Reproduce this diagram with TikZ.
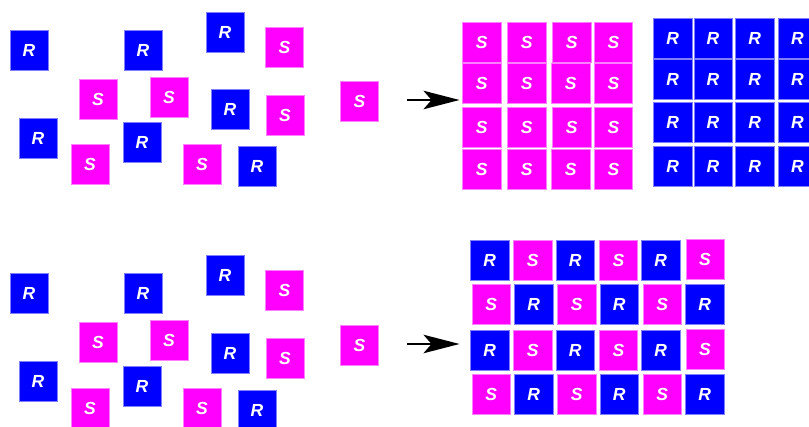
\documentclass[tikz,border=0pt]{standalone}
\usepackage{fontspec}
\setmainfont{Liberation Sans}
\usetikzlibrary{arrows.meta}
\definecolor{rblue}{RGB}{0,0,255}
\definecolor{smag}{RGB}{255,0,255}
\tikzset{
  tile/.style={minimum width=38.4pt, minimum height=40pt, inner sep=0pt,
    line width=0.6pt, text=white,
    font=\fontsize{17.5}{17.5}\selectfont\bfseries\itshape},
  rtile/.style={tile, fill=rblue, draw=rblue!50!white},
  stile/.style={tile, fill=smag, draw=smag!50!white},
  flow/.style={line width=1.8pt, -{Stealth[length=36pt, width=18.5pt, inset=8pt]}}
}
\begin{document}
\begin{tikzpicture}[x=1pt, y=-1pt]
\useasboundingbox (0,0) rectangle (809,427);

% loose molecules, upper and lower panels
\foreach \x/\y/\s/\l [count=\i] in {
  29/50/rtile/R, 143/50/rtile/R, 225/32/rtile/R, 284.5/47/stile/S,
  98/99/stile/S, 169/97/stile/S, 230/109.5/rtile/R, 285/115/stile/S,
  359.5/101.5/stile/S, 38/138/rtile/R, 90/164.7/stile/S, 142/142.5/rtile/R,
  202/164.7/stile/S, 257/166.5/rtile/R}
{
  \node[\s] (ua\i) at (\x,\y) {\l};
  \node[\s] (la\i) at (\x,\y+243.5) {\l};
}

% upper result: separate S and R blocks
\foreach \x/\y [count=\i] in {
  481.7/42, 526.7/42, 571.8/42, 613.5/42,
  481.7/83.5, 526.7/83.5, 570.8/83.5, 613.5/83.5,
  481.7/127.7, 526.7/127.7, 571.8/127.7, 613.5/127.7,
  481.7/169.2, 526.7/169.2, 570.8/169.2, 613.5/169.2}
  \node[stile] (us\i) at (\x,\y) {S};

\foreach \x/\y [count=\i] in {
  672.7/38.3, 713/38.3, 754.7/38.3, 797.5/38.3,
  672.7/79.7, 713/79.7, 754.7/79.7, 797.5/79.7,
  672.7/122.7, 713/122.7, 754.7/122.7, 797.5/122.7,
  672.7/166.3, 713/166.3, 754.7/166.3, 797.5/166.3}
  \node[rtile] (ur\i) at (\x,\y) {R};

% lower result: alternating R/S lattice
\foreach \x/\y/\s/\l [count=\i] in {
  489.8/260.3/rtile/R, 532.8/260.3/stile/S, 575.3/260.3/rtile/R,
  618.5/260.3/stile/S, 660.8/260.3/rtile/R, 705/259.3/stile/S,
  491.3/304.3/stile/S, 533.8/304.3/rtile/R, 576.7/304.3/stile/S,
  619.3/304.3/rtile/R, 662.3/304.3/stile/S, 704.8/304.3/rtile/R,
  489.8/350.5/rtile/R, 532.8/350.5/stile/S, 575.3/350.5/rtile/R,
  618.5/350.5/stile/S, 660.8/350.5/rtile/R, 705/349.5/stile/S,
  491.3/394.7/stile/S, 533.8/394.7/rtile/R, 576.7/394.7/stile/S,
  619.3/394.7/rtile/R, 662.3/394.7/stile/S, 704.8/394.7/rtile/R}
  \node[\s] (lg\i) at (\x,\y) {\l};

% arrows
\coordinate (ua0) at (407,100);
\coordinate (ua1) at (459.5,100);
\coordinate (la0) at (407,344);
\coordinate (la1) at (459.5,344);
\draw[flow] (ua0) -- (ua1);
\draw[flow] (la0) -- (la1);
\end{tikzpicture}
\end{document}
